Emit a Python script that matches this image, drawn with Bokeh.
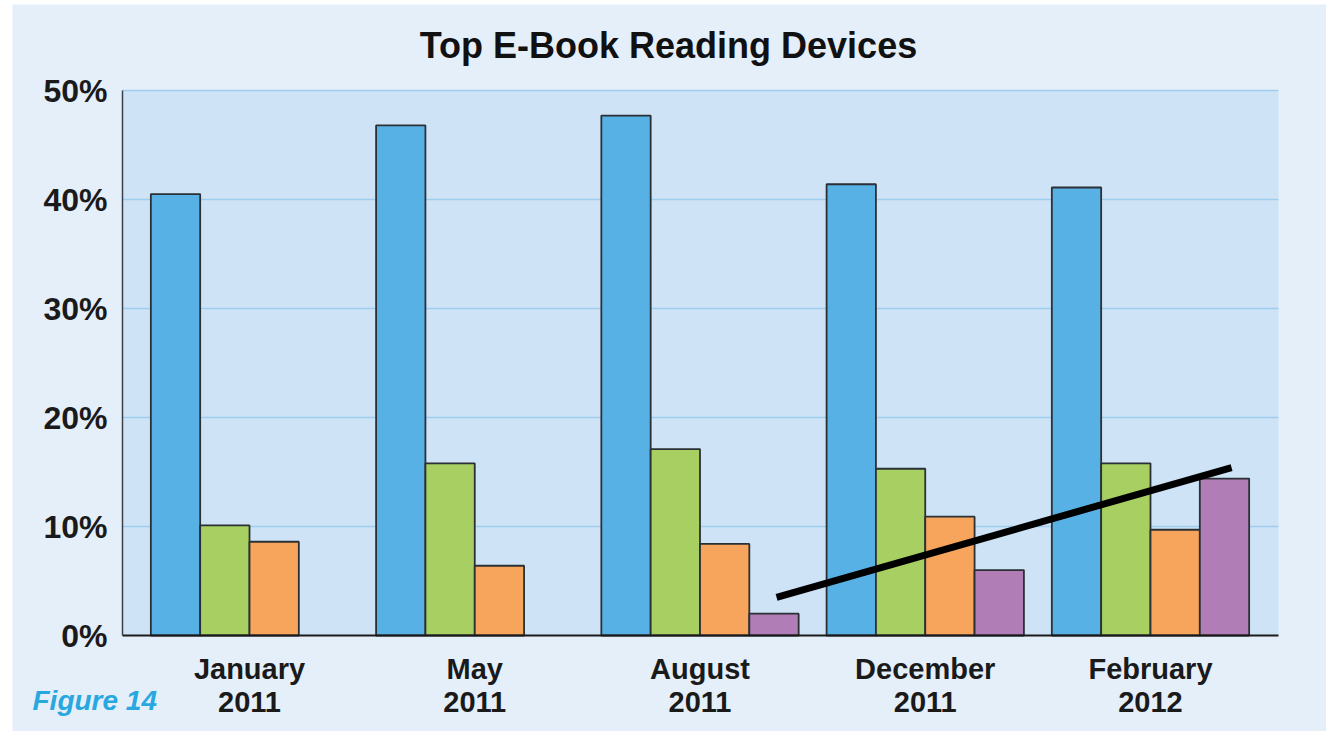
from bokeh.plotting import figure
from bokeh.models import ColumnDataSource, FixedTicker, Range1d, BoxAnnotation
from bokeh.core.properties import value
from bokeh.embed import file_html
from bokeh.resources import INLINE

# ---- data ----
periods = ["January\n2011", "May\n2011", "August\n2011", "December\n2011", "February\n2012"]
series_a = [40.5, 46.8, 47.7, 41.4, 41.1]   # blue
series_b = [10.1, 15.8, 17.1, 15.3, 15.8]   # green
series_c = [8.6, 6.4, 8.4, 10.9, 9.7]       # orange
series_d = [None, None, 2.0, 6.0, 14.4]     # purple
y_ticks = [0, 10, 20, 30, 40, 50]
y_tick_labels = ["0%", "10%", "20%", "30%", "40%", "50%"]
trend_x = [2.34, 4.36]
trend_y = [3.5, 15.4]
title_text = "Top E-Book Reading Devices"
figure_note = "Figure 14"

# ---- layout / styling ----
OUTER = "#E4EFFA"
INNER = "#CFE3F6"
GRID = "#9FCDF0"
COLORS = ["#58B1E4", "#A8CF62", "#F7A45C", "#B07DB6"]
FONT = "Liberation Sans"
BAR_W = 0.219
X_LO, X_HI = -0.564, 4.568      # plotting area along x
Y_LO, Y_HI = 0, 50              # plotting area along y

p = figure(width=1314, height=727, output_backend="svg", toolbar_location=None,
           x_range=Range1d(-1.0522, 4.7814), y_range=Range1d(-8.807, 57.89),
           min_border_left=0, min_border_right=0, min_border_top=0,
           min_border_bottom=0)
p.margin = (4, 0, 0, 12)
p.background_fill_color = OUTER
p.border_fill_color = OUTER
p.outline_line_color = None

p.add_layout(BoxAnnotation(left=X_LO, right=X_HI, bottom=Y_LO, top=Y_HI,
                           fill_color=INNER, fill_alpha=1.0, line_color=None,
                           level="underlay"))

# horizontal grid lines limited to the plotting area
grid_ticks = [t for t in y_ticks if t > 0]
p.segment(x0=[X_LO] * len(grid_ticks), x1=[X_HI] * len(grid_ticks),
          y0=grid_ticks, y1=grid_ticks, line_color=GRID, line_width=1.5)

series = [series_a, series_b, series_c, series_d]
offsets = [-1.5, -0.5, 0.5, 1.5]
for vals, off, col in zip(series, offsets, COLORS):
    xs, tops = [], []
    for i, v in enumerate(vals):
        if v is not None:
            xs.append(i + off * BAR_W)
            tops.append(v)
    src = ColumnDataSource(dict(x=xs, top=tops))
    p.vbar(x="x", top="top", width=BAR_W, bottom=0, source=src,
           fill_color=col, line_color="#2B3035", line_width=1.8)

p.line(trend_x, trend_y, line_color="black", line_width=7)

p.xgrid.grid_line_color = None
p.ygrid.grid_line_color = None

# y axis
p.yaxis.fixed_location = X_LO
p.yaxis.bounds = (Y_LO, Y_HI)
p.yaxis.ticker = FixedTicker(ticks=y_ticks)
p.yaxis.major_label_overrides = {t: l for t, l in zip(y_ticks, y_tick_labels)}
p.yaxis.major_tick_line_color = None
p.yaxis.minor_tick_line_color = None
p.yaxis.axis_line_color = "#3A4045"
p.yaxis.axis_line_width = 1.5
p.yaxis.major_label_text_font = FONT
p.yaxis.major_label_text_font_style = "bold"
p.yaxis.major_label_text_font_size = "32px"
p.yaxis.major_label_text_color = "#1A1A1A"
p.yaxis.major_label_standoff = 9

# x axis
p.xaxis.fixed_location = 0
p.xaxis.bounds = (X_LO, X_HI)
p.xaxis.ticker = FixedTicker(ticks=list(range(len(periods))))
p.xaxis.major_label_overrides = {i: l for i, l in enumerate(periods)}
p.xaxis.major_tick_line_color = None
p.xaxis.minor_tick_line_color = None
p.xaxis.axis_line_color = "#1A1A1A"
p.xaxis.axis_line_width = 2
p.xaxis.major_label_text_font = FONT
p.xaxis.major_label_text_font_style = "bold"
p.xaxis.major_label_text_font_size = "29px"
p.xaxis.major_label_text_color = "#1A1A1A"
p.xaxis.major_label_text_line_height = 1.05
p.xaxis.major_label_standoff = 11

# title and note
p.text(x=[1.86], y=[54.13], text=[title_text], text_font=value(FONT),
       text_font_style="bold", text_font_size="36px", text_color="#111111",
       text_align="center", text_baseline="middle")
p.text(x=[-0.9634], y=[-5.963], text=[figure_note], text_font=value(FONT),
       text_font_style="bold italic", text_font_size="28px",
       text_color="#29A8E0", text_align="left", text_baseline="middle")

open("out.html", "w").write(file_html(p, INLINE))
